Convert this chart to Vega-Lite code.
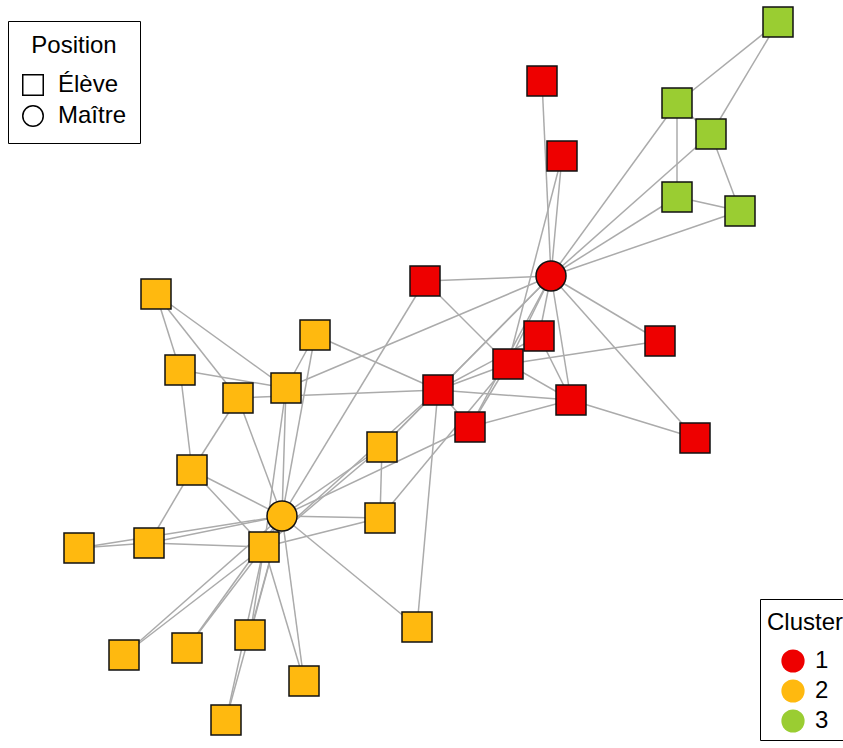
{
  "$schema": "https://vega.github.io/schema/vega-lite/v6.json",
  "width": 843,
  "height": 748,
  "padding": 0,
  "autosize": "none",
  "background": "white",
  "config": {
    "view": {"stroke": null},
    "font": "Liberation Sans",
    "legend": {
      "titleFont": "Liberation Sans",
      "labelFont": "Liberation Sans",
      "titleFontWeight": "normal",
      "titleFontSize": 24,
      "labelFontSize": 24,
      "titleColor": "black",
      "labelColor": "black",
      "cornerRadius": 0,
      "strokeColor": "black",
      "fillColor": "white"
    }
  },
  "datasets": {
    "nodes": [
      {"id": 1, "x": 551, "y": 276, "cluster": "1", "position": "Maître"},
      {"id": 2, "x": 508, "y": 364, "cluster": "1", "position": "Élève"},
      {"id": 3, "x": 438, "y": 390, "cluster": "1", "position": "Élève"},
      {"id": 4, "x": 571, "y": 400, "cluster": "1", "position": "Élève"},
      {"id": 5, "x": 740, "y": 211, "cluster": "3", "position": "Élève"},
      {"id": 6, "x": 677, "y": 103, "cluster": "3", "position": "Élève"},
      {"id": 7, "x": 711, "y": 134, "cluster": "3", "position": "Élève"},
      {"id": 8, "x": 539, "y": 336, "cluster": "1", "position": "Élève"},
      {"id": 9, "x": 382, "y": 447, "cluster": "2", "position": "Élève"},
      {"id": 10, "x": 417, "y": 627, "cluster": "2", "position": "Élève"},
      {"id": 11, "x": 677, "y": 197, "cluster": "3", "position": "Élève"},
      {"id": 12, "x": 542, "y": 81, "cluster": "1", "position": "Élève"},
      {"id": 13, "x": 695, "y": 438, "cluster": "1", "position": "Élève"},
      {"id": 14, "x": 470, "y": 427, "cluster": "1", "position": "Élève"},
      {"id": 15, "x": 124, "y": 655, "cluster": "2", "position": "Élève"},
      {"id": 16, "x": 187, "y": 648, "cluster": "2", "position": "Élève"},
      {"id": 17, "x": 778, "y": 22, "cluster": "3", "position": "Élève"},
      {"id": 18, "x": 562, "y": 156, "cluster": "1", "position": "Élève"},
      {"id": 19, "x": 250, "y": 635, "cluster": "2", "position": "Élève"},
      {"id": 20, "x": 425, "y": 281, "cluster": "1", "position": "Élève"},
      {"id": 21, "x": 304, "y": 681, "cluster": "2", "position": "Élève"},
      {"id": 22, "x": 660, "y": 341, "cluster": "1", "position": "Élève"},
      {"id": 23, "x": 226, "y": 720, "cluster": "2", "position": "Élève"},
      {"id": 24, "x": 192, "y": 470, "cluster": "2", "position": "Élève"},
      {"id": 25, "x": 156, "y": 294, "cluster": "2", "position": "Élève"},
      {"id": 26, "x": 180, "y": 370, "cluster": "2", "position": "Élève"},
      {"id": 27, "x": 79, "y": 548, "cluster": "2", "position": "Élève"},
      {"id": 28, "x": 238, "y": 398, "cluster": "2", "position": "Élève"},
      {"id": 29, "x": 315, "y": 335, "cluster": "2", "position": "Élève"},
      {"id": 30, "x": 149, "y": 543, "cluster": "2", "position": "Élève"},
      {"id": 31, "x": 380, "y": 518, "cluster": "2", "position": "Élève"},
      {"id": 32, "x": 286, "y": 388, "cluster": "2", "position": "Élève"},
      {"id": 33, "x": 264, "y": 547, "cluster": "2", "position": "Élève"},
      {"id": 34, "x": 282, "y": 516, "cluster": "2", "position": "Maître"}
    ],
    "edges": [
      {"source": 1, "target": 2}, {"source": 1, "target": 3}, {"source": 1, "target": 4}, {"source": 1, "target": 5},
      {"source": 1, "target": 6}, {"source": 1, "target": 7}, {"source": 1, "target": 8}, {"source": 1, "target": 9},
      {"source": 1, "target": 11}, {"source": 1, "target": 12}, {"source": 1, "target": 13}, {"source": 1, "target": 14},
      {"source": 1, "target": 18}, {"source": 1, "target": 20}, {"source": 1, "target": 22}, {"source": 1, "target": 32},
      {"source": 2, "target": 3}, {"source": 2, "target": 4}, {"source": 2, "target": 8}, {"source": 2, "target": 14},
      {"source": 2, "target": 18}, {"source": 2, "target": 20}, {"source": 2, "target": 22}, {"source": 2, "target": 31},
      {"source": 3, "target": 4}, {"source": 3, "target": 8}, {"source": 3, "target": 9}, {"source": 3, "target": 10},
      {"source": 3, "target": 14}, {"source": 3, "target": 28}, {"source": 3, "target": 29}, {"source": 3, "target": 33},
      {"source": 4, "target": 8}, {"source": 4, "target": 13}, {"source": 4, "target": 14},
      {"source": 5, "target": 7}, {"source": 5, "target": 11},
      {"source": 6, "target": 7}, {"source": 6, "target": 11}, {"source": 6, "target": 17},
      {"source": 7, "target": 17},
      {"source": 9, "target": 31}, {"source": 9, "target": 33}, {"source": 9, "target": 34},
      {"source": 10, "target": 34},
      {"source": 14, "target": 34},
      {"source": 15, "target": 33}, {"source": 15, "target": 34},
      {"source": 16, "target": 33}, {"source": 16, "target": 34},
      {"source": 19, "target": 33}, {"source": 19, "target": 34},
      {"source": 20, "target": 34},
      {"source": 21, "target": 33}, {"source": 21, "target": 34},
      {"source": 23, "target": 33}, {"source": 23, "target": 34},
      {"source": 24, "target": 26}, {"source": 24, "target": 28}, {"source": 24, "target": 30}, {"source": 24, "target": 33}, {"source": 24, "target": 34},
      {"source": 25, "target": 26}, {"source": 25, "target": 28}, {"source": 25, "target": 32},
      {"source": 26, "target": 32},
      {"source": 27, "target": 30}, {"source": 27, "target": 34},
      {"source": 28, "target": 34},
      {"source": 29, "target": 32}, {"source": 29, "target": 34},
      {"source": 30, "target": 33}, {"source": 30, "target": 34},
      {"source": 31, "target": 33}, {"source": 31, "target": 34},
      {"source": 32, "target": 33}, {"source": 32, "target": 34},
      {"source": 33, "target": 34}
    ]
  },
  "layer": [
    {
      "data": {"name": "edges"},
      "transform": [
        {"lookup": "source", "from": {"data": {"name": "nodes"}, "key": "id", "fields": ["x", "y"]}, "as": ["sx", "sy"]},
        {"lookup": "target", "from": {"data": {"name": "nodes"}, "key": "id", "fields": ["x", "y"]}, "as": ["tx", "ty"]}
      ],
      "mark": {"type": "rule", "color": "#ABABAB", "strokeWidth": 1.5},
      "encoding": {
        "x": {"field": "sx", "type": "quantitative", "scale": {"domain": [0, 843], "nice": false, "zero": false}, "axis": null},
        "y": {"field": "sy", "type": "quantitative", "scale": {"domain": [0, 748], "nice": false, "zero": false, "reverse": true}, "axis": null},
        "x2": {"field": "tx"},
        "y2": {"field": "ty"}
      }
    },
    {
      "data": {"name": "nodes"},
      "mark": {"type": "point", "filled": true, "opacity": 1, "size": 900, "stroke": "#111111", "strokeWidth": 1.5},
      "encoding": {
        "x": {"field": "x", "type": "quantitative", "scale": {"domain": [0, 843], "nice": false, "zero": false}, "axis": null},
        "y": {"field": "y", "type": "quantitative", "scale": {"domain": [0, 748], "nice": false, "zero": false, "reverse": true}, "axis": null},
        "order": {"field": "id", "type": "quantitative"},
        "shape": {
          "field": "position", "type": "nominal",
          "scale": {"domain": ["Élève", "Maître"], "range": ["square", "circle"]},
          "legend": {
            "title": "Position",
            "orient": "none", "legendX": 8, "legendY": 21,
            "padding": 13,
            "titleAnchor": "middle",
            "titlePadding": 15,
            "rowPadding": 3,
            "symbolSize": 420,
            "symbolFillColor": "white",
            "symbolStrokeColor": "black",
            "symbolStrokeWidth": 1.5,
            "labelOffset": 13
          }
        },
        "color": {
          "field": "cluster", "type": "nominal",
          "scale": {"domain": ["1", "2", "3"], "range": ["#EE0000", "#FFB90F", "#9ACD32"]},
          "legend": {
            "title": "Cluster",
            "orient": "none", "legendX": 760, "legendY": 599,
            "padding": 7,
            "titleAnchor": "start",
            "titleBaseline": "line-top",
            "titleLineHeight": 34,
            "titlePadding": 19,
            "rowPadding": 6,
            "symbolType": "circle",
            "symbolSize": 540,
            "symbolOffset": 14,
            "symbolStrokeColor": "transparent",
            "symbolStrokeWidth": 0,
            "labelOffset": 10
          }
        }
      }
    }
  ]
}
